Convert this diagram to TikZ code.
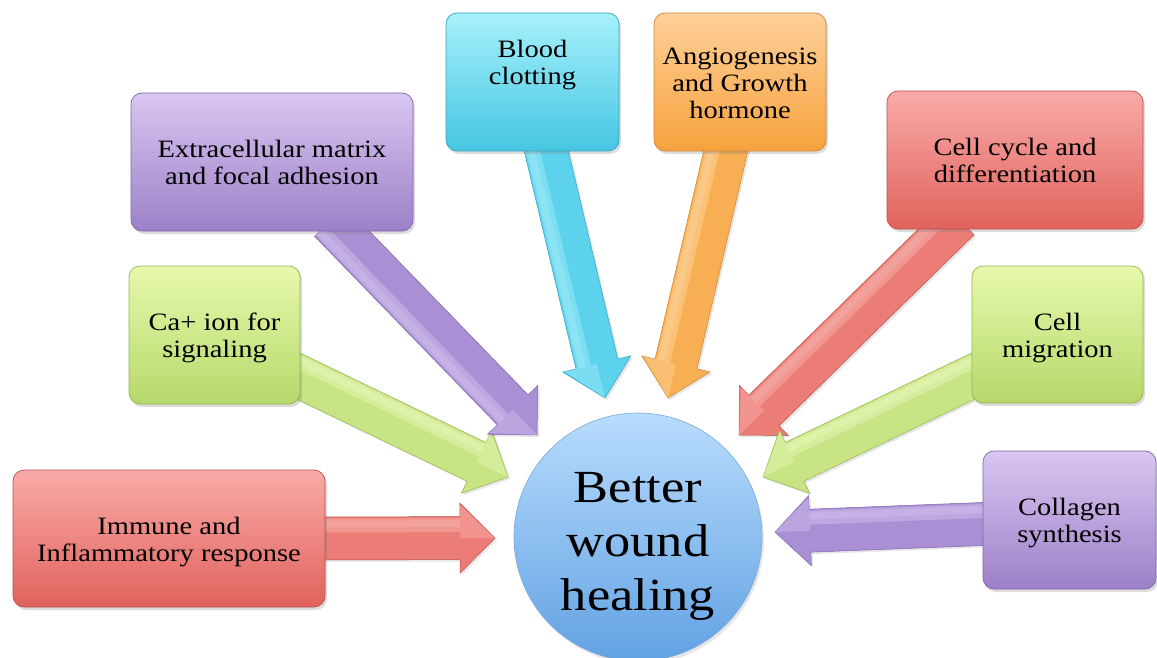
\documentclass[tikz,border=0pt]{standalone}
\usepackage{fontspec}
\setmainfont{Liberation Serif}[FakeStretch=1.14]
\usetikzlibrary{calc,shadows}
\pgfdeclarelayer{back}
\pgfsetlayers{back,main}
\definecolor{redT}{HTML}{F9ABA8}\definecolor{redB}{HTML}{E1625C}\definecolor{redE}{HTML}{B9504B}
\definecolor{redF}{HTML}{EC7C76}\definecolor{redL}{HTML}{F9B7B3}
\definecolor{grnT}{HTML}{E6F9AC}\definecolor{grnB}{HTML}{B6D86A}\definecolor{grnE}{HTML}{94B450}
\definecolor{grnF}{HTML}{C8E484}\definecolor{grnL}{HTML}{EAF9BE}
\definecolor{purT}{HTML}{D9C6F1}\definecolor{purB}{HTML}{9D80C8}\definecolor{purE}{HTML}{7F66A9}
\definecolor{purF}{HTML}{AA8FD4}\definecolor{purL}{HTML}{D6C6F0}
\definecolor{cyaT}{HTML}{A6F1FB}\definecolor{cyaB}{HTML}{45C5E2}\definecolor{cyaE}{HTML}{33A3BF}
\definecolor{cyaF}{HTML}{5CD2EC}\definecolor{cyaL}{HTML}{A8EEF9}
\definecolor{oraT}{HTML}{FFD09A}\definecolor{oraB}{HTML}{F6A23C}\definecolor{oraE}{HTML}{CF8532}
\definecolor{oraF}{HTML}{F8AE52}\definecolor{oraL}{HTML}{FDDAA6}
\definecolor{bluT}{HTML}{B8DCFC}\definecolor{bluB}{HTML}{62A2E4}\definecolor{bluE}{HTML}{7AA8D8}
\newcommand\lines[2][-4pt]{\raisebox{#1}[\height][\depth]{\begin{tabular}{@{}c@{}}#2\end{tabular}}}
\tikzset{
  box/.style={rounded corners=11pt, inner sep=0pt, line width=0.7pt,
    font=\fontsize{25}{27}\selectfont,
    drop shadow={opacity=0.28, shadow xshift=2pt, shadow yshift=-3pt}},
  redbox/.style={box, top color=redT, bottom color=redB, draw=redE},
  grnbox/.style={box, top color=grnT, bottom color=grnB, draw=grnE},
  purbox/.style={box, top color=purT, bottom color=purB, draw=purE},
  cyabox/.style={box, top color=cyaT, bottom color=cyaB, draw=cyaE},
  orabox/.style={box, top color=oraT, bottom color=oraB, draw=oraE},
  boxtext/.style={inner sep=0pt, font=\fontsize{25}{27}\selectfont},
}
% #1 start, #2 tip, #3 fill, #4 light, #5 edge, #6 light side (90 or -90)
\newcommand\blockarrow[6]{%
  \coordinate (ah) at ($(#2)!35pt!(#1)$);
  \filldraw[fill=#3, draw=#5, line width=0.5pt,
    drop shadow={opacity=0.2, shadow xshift=2pt, shadow yshift=-2pt}]
    ($(#1)!21.5pt!90:(#2)$) -- ($(ah)!21.5pt!90:(#2)$) -- ($(ah)!35pt!90:(#2)$) -- (#2)
    -- ($(ah)!35pt!-90:(#2)$) -- ($(ah)!21.5pt!-90:(#2)$) -- ($(#1)!21.5pt!-90:(#2)$) -- cycle;
  \fill[#4, opacity=0.45] ($(#1)!20pt!#6:(#2)$) -- ($(ah)!20pt!#6:(#2)$)
    -- ($(ah)!6pt!#6:(#2)$) -- ($(#1)!6pt!#6:(#2)$) -- cycle;
  \fill[#4, opacity=0.35] ($(#1)!18pt!#6:(#2)$) -- ($(ah)!18pt!#6:(#2)$)
    -- ($(ah)!11pt!#6:(#2)$) -- ($(#1)!11pt!#6:(#2)$) -- cycle;
  \fill[#4, opacity=0.4] ($(ah)!33pt!#6:(#2)$) -- (#2) -- (ah) -- cycle;
}
\begin{document}
\begin{tikzpicture}[x=1pt,y=-1pt]
\useasboundingbox (0,0) rectangle (1157,658);

% boxes
\node[redbox, minimum width=312pt, minimum height=137pt] (immune) at (169,538.5) {\lines{Immune and\\Inflammatory response}};
\node[grnbox, minimum width=171pt, minimum height=138pt] (ca) at (214.5,335) {\lines{Ca+ ion for\\signaling}};
\node[purbox, minimum width=282pt, minimum height=138pt] (ecm) at (272,162) {\lines{Extracellular matrix\\and focal adhesion}};
\node[cyabox, minimum width=173pt, minimum height=138pt] (blood) at (532.5,82) {};
\node[boxtext] (bloodtext) at ($(blood.center)+(0,-20)$) {\lines{Blood\\clotting}};
\node[orabox, minimum width=172pt, minimum height=138pt] (angio) at (740,82) {\lines{Angiogenesis\\and Growth\\hormone}};
\node[redbox, minimum width=256pt, minimum height=138pt] (cycle) at (1015,160) {\lines{Cell cycle and\\differentiation}};
\node[grnbox, minimum width=171pt, minimum height=137pt] (migr) at (1057.5,334.5) {\lines{Cell\\migration}};
\node[purbox, minimum width=173pt, minimum height=138pt] (coll) at (1069.5,520) {\lines{Collagen\\synthesis}};

% centre
\node[circle, minimum size=248pt, inner sep=0pt, top color=bluT, bottom color=bluB, draw=bluE,
  line width=0.6pt, font=\fontsize{46}{54}\selectfont,
  drop shadow={opacity=0.2, shadow xshift=2pt, shadow yshift=-3pt}] (heal) at (638,537) {\lines[-9pt]{Better\\wound\\healing}};

% arrow ends
\coordinate (s1) at ($(immune.east)+(-5,0)$);
\coordinate (t1) at ($(heal.center)+(-143,1)$);
\coordinate (s2) at ($(ca.east)+(-9,37.7)$);
\coordinate (t2) at ($(heal.center)+(-130,-60)$);
\coordinate (s3) at ($(ecm.south)+(58,-10)$);
\coordinate (t3) at ($(heal.center)+(-101,-102)$);
\coordinate (s4) at ($(blood.south)+(11.5,-10)$);
\coordinate (t4) at ($(heal.center)+(-33,-139)$);
\coordinate (s5) at ($(angio.south)+(-12,-10)$);
\coordinate (t5) at ($(heal.center)+(30,-139)$);
\coordinate (s6) at ($(cycle.south)+(-56,-10)$);
\coordinate (t6) at ($(heal.center)+(101,-102)$);
\coordinate (s7) at ($(migr.west)+(10,37.5)$);
\coordinate (t7) at ($(heal.center)+(125,-60)$);
\coordinate (s8) at ($(coll.west)+(10,3.6)$);
\coordinate (t8) at ($(heal.center)+(137,-5)$);

\begin{pgfonlayer}{back}
\blockarrow{s1}{t1}{redF}{redL}{redE}{90}
\blockarrow{s2}{t2}{grnF}{grnL}{grnE}{90}
\blockarrow{s3}{t3}{purF}{purL}{purE}{-90}
\blockarrow{s4}{t4}{cyaF}{cyaL}{cyaE}{-90}
\blockarrow{s5}{t5}{oraF}{oraL}{oraE}{-90}
\blockarrow{s6}{t6}{redF}{redL}{redE}{-90}
\blockarrow{s7}{t7}{grnF}{grnL}{grnE}{-90}
\blockarrow{s8}{t8}{purF}{purL}{purE}{-90}
\end{pgfonlayer}
\end{tikzpicture}
\end{document}
